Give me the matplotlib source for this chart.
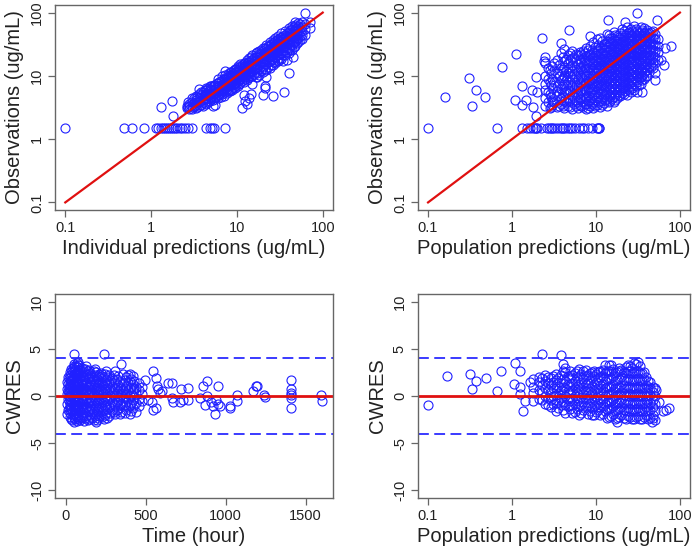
import matplotlib.pyplot as plt

# ---- data ----
# top-left: observations vs individual predictions (ug/mL)
ipred_obs = [
    (2.6, 3.1), (2.6, 3.4), (2.7, 3.2), (2.7, 3.8),
    (2.8, 3.0), (2.8, 3.6), (2.8, 3.3),
    (3.0, 3.2), (3.0, 3.9), (3.0, 3.0), (3.0, 4.4),
    (3.15, 3.3), (3.15, 3.7), (3.15, 4.5),
    (3.3, 3.5), (3.3, 3.1), (3.3, 4.2), (3.3, 4.8),
    (3.45, 3.2), (3.45, 3.9), (3.45, 4.6),
    (3.6, 3.3), (3.6, 3.8), (3.6, 4.5), (3.6, 5.2), (3.6, 6.3),
    (3.8, 3.5), (3.8, 4.2), (3.8, 4.9), (3.8, 5.6),
    (4.0, 3.4), (4.0, 4.1), (4.0, 4.8), (4.0, 5.5), (4.0, 3.9),
    (4.2, 3.7), (4.2, 4.5), (4.2, 5.2), (4.2, 6.0),
    (4.4, 3.6), (4.4, 4.3), (4.4, 5.0), (4.4, 5.9), (4.4, 6.5),
    (4.6, 3.9), (4.6, 4.8), (4.6, 5.6), (4.6, 6.4),
    (4.8, 4.0), (4.8, 4.6), (4.8, 5.3), (4.8, 6.2), (4.8, 7.0),
    (5.0, 4.3), (5.0, 5.1), (5.0, 6.0), (5.0, 7.0),
    (5.2, 3.4), (5.2, 4.2), (5.2, 5.0), (5.2, 5.8), (5.2, 6.8),
    (5.4, 4.5), (5.4, 5.3), (5.4, 6.3), (5.4, 7.1),
    (5.6, 3.5), (5.6, 4.6), (5.6, 5.4), (5.6, 6.1), (5.6, 7.3),
    (5.8, 4.8), (5.8, 5.6), (5.8, 6.6), (5.8, 7.8),
    (6.0, 4.4), (6.0, 5.1), (6.0, 5.8), (6.0, 6.6), (6.0, 7.8), (6.0, 9.0),
    (6.25, 4.9), (6.25, 5.8), (6.25, 6.8), (6.25, 7.9),
    (6.5, 4.6), (6.5, 5.5), (6.5, 6.3), (6.5, 7.1), (6.5, 8.3),
    (6.75, 5.1), (6.75, 6.1), (6.75, 7.2), (6.75, 8.5), (6.75, 10.0),
    (7.0, 4.8), (7.0, 5.9), (7.0, 6.8), (7.0, 7.6), (7.0, 8.8), (7.2, 12.0),
    (7.3, 5.5), (7.3, 6.5), (7.3, 7.6), (7.3, 8.9), (7.3, 10.5),
    (7.6, 5.3), (7.6, 6.3), (7.6, 7.2), (7.6, 8.2), (7.6, 9.5),
    (7.9, 5.8), (7.9, 6.8), (7.9, 8.0), (7.9, 9.4), (7.9, 10.8),
    (8.2, 5.8), (8.2, 6.9), (8.2, 7.8), (8.2, 8.9), (8.2, 10.2), (8.2, 11.5),
    (8.5, 6.2), (8.5, 7.4), (8.5, 8.6), (8.5, 10.0), (8.5, 11.5),
    (8.8, 6.0), (8.8, 7.2), (8.8, 8.4), (8.8, 9.5), (8.8, 10.8),
    (9.15, 6.6), (9.15, 7.8), (9.15, 9.2), (9.15, 10.6), (9.15, 12.2),
    (9.5, 6.4), (9.5, 7.8), (9.5, 9.0), (9.5, 10.2), (9.5, 11.6), (9.5, 13.0),
    (9.85, 7.2), (9.85, 8.5), (9.85, 9.9), (9.85, 11.4), (9.85, 13.0),
    (10.2, 6.8), (10.2, 8.2), (10.2, 9.6), (10.2, 10.8), (10.2, 12.4), (10.2, 14.5),
    (10.6, 7.4), (10.6, 8.9), (10.6, 10.3), (10.6, 11.8), (10.6, 13.6),
    (11.0, 7.6), (11.0, 9.0), (11.0, 10.4), (11.0, 11.7), (11.0, 13.3), (11.0, 15.5),
    (11.5, 8.2), (11.5, 9.8), (11.5, 11.3), (11.5, 12.9), (11.5, 14.8),
    (12.0, 8.0), (12.0, 9.6), (12.0, 11.2), (12.0, 12.6), (12.0, 14.3), (12.0, 16.2),
    (12.5, 8.8), (12.5, 10.4), (12.5, 12.0), (12.5, 13.8), (12.5, 15.8),
    (13.0, 8.6), (13.0, 10.5), (13.0, 12.2), (13.0, 13.6), (13.0, 15.4), (13.0, 18.0),
    (13.5, 9.3), (13.5, 11.0), (13.5, 12.8), (13.5, 14.6), (13.5, 16.8),
    (14.0, 9.5), (14.0, 11.3), (14.0, 13.2), (14.0, 14.8), (14.0, 16.8), (14.0, 19.5),
    (14.5, 9.8), (14.5, 11.8), (14.5, 13.7), (14.5, 15.6), (14.5, 17.8), (14.5, 20.0),
    (15.0, 10.0), (15.0, 12.0), (15.0, 14.0), (15.0, 16.0), (15.0, 18.0), (15.0, 21.0),
    (15.7, 10.8), (15.7, 12.8), (15.7, 14.8), (15.7, 17.0), (15.7, 19.3),
    (16.5, 9.5), (16.5, 11.5), (16.5, 13.5), (16.5, 15.5), (16.5, 17.5), (16.5, 20.0), (16.5, 23.0),
    (17.2, 11.0), (17.2, 13.2), (17.2, 15.4), (17.2, 17.8), (17.2, 20.5), (17.2, 23.5),
    (18.0, 10.5), (18.0, 12.8), (18.0, 15.0), (18.0, 17.2), (18.0, 19.6), (18.0, 22.0), (18.0, 25.0),
    (19.0, 12.0), (19.0, 14.3), (19.0, 16.8), (19.0, 19.5), (19.0, 22.4), (19.0, 25.5),
    (20.0, 11.5), (20.0, 14.0), (20.0, 16.5), (20.0, 19.0), (20.0, 21.5), (20.0, 24.5), (20.0, 28.0),
    (21.0, 12.8), (21.0, 15.5), (21.0, 18.2), (21.0, 21.0), (21.0, 24.0), (21.0, 27.5),
    (22.0, 12.5), (22.0, 15.5), (22.0, 18.0), (22.0, 21.0), (22.0, 23.5), (22.0, 27.0), (22.0, 31.0),
    (23.0, 14.0), (23.0, 16.8), (23.0, 19.8), (23.0, 22.8), (23.0, 26.0), (23.0, 30.0),
    (24.0, 13.5), (24.0, 17.0), (24.0, 20.0), (24.0, 23.0), (24.0, 26.0), (24.0, 29.5), (24.0, 34.0),
    (25.0, 15.0), (25.0, 18.0), (25.0, 21.2), (25.0, 24.4), (25.0, 28.0), (25.0, 32.0),
    (26.0, 15.0), (26.0, 18.5), (26.0, 21.5), (26.0, 25.0), (26.0, 28.5), (26.0, 32.0), (26.0, 37.0),
    (27.0, 16.5), (27.0, 19.7), (27.0, 23.0), (27.0, 26.5), (27.0, 30.0), (27.0, 34.5),
    (28.0, 16.0), (28.0, 20.0), (28.0, 23.5), (28.0, 27.0), (28.0, 31.0), (28.0, 35.0), (28.0, 40.0),
    (29.0, 18.0), (29.0, 21.3), (29.0, 24.8), (29.0, 28.5), (29.0, 32.5), (29.0, 37.0),
    (30.0, 17.0), (30.0, 21.5), (30.0, 25.0), (30.0, 29.0), (30.0, 33.0), (30.0, 38.0), (30.0, 43.0),
    (31.5, 19.5), (31.5, 23.0), (31.5, 27.0), (31.5, 31.0), (31.5, 35.5), (31.5, 40.0),
    (33.0, 18.5), (33.0, 23.0), (33.0, 27.5), (33.0, 32.0), (33.0, 36.0), (33.0, 41.0), (33.0, 47.0),
    (34.5, 21.0), (34.5, 25.0), (34.5, 29.0), (34.5, 33.5), (34.5, 38.0), (34.5, 43.0),
    (36.0, 21.0), (36.0, 25.5), (36.0, 30.0), (36.0, 35.0), (36.0, 40.0), (36.0, 45.0), (36.0, 52.0),
    (38.0, 23.5), (38.0, 28.0), (38.0, 32.5), (38.0, 37.5), (38.0, 42.5), (38.0, 48.0),
    (40.0, 23.0), (40.0, 28.0), (40.0, 33.0), (40.0, 38.0), (40.0, 43.0), (40.0, 50.0), (40.0, 57.0),
    (42.0, 26.0), (42.0, 31.0), (42.0, 36.0), (42.0, 41.5), (42.0, 47.0), (42.0, 53.0),
    (44.0, 26.0), (44.0, 31.0), (44.0, 36.0), (44.0, 42.0), (44.0, 48.0), (44.0, 55.0), (44.0, 62.0),
    (46.0, 29.0), (46.0, 34.5), (46.0, 40.0), (46.0, 46.0), (46.0, 52.0), (46.0, 60.0),
    (48.0, 30.0), (48.0, 36.0), (48.0, 42.0), (48.0, 48.0), (48.0, 55.0), (48.0, 63.0), (48.0, 70.0),
    (50.0, 33.0), (50.0, 39.0), (50.0, 45.0), (50.0, 52.0), (50.0, 58.0),
    (52.0, 34.0), (52.0, 40.0), (52.0, 47.0), (52.0, 54.0), (52.0, 62.0), (52.0, 68.0),
    (54.5, 37.0), (54.5, 43.0), (54.5, 50.0), (54.5, 57.0), (54.5, 65.0),
    (57.0, 38.0), (57.0, 45.0), (57.0, 52.0), (57.0, 60.0), (57.0, 72.0),
    (62.0, 44.0), (62.0, 55.0), (62.0, 65.0), (62.0, 100.0),
    (72.0, 58.0), (72.0, 70.0),
    (11.5, 3.1), (13.2, 3.6), (12.5, 4.0), (13.8, 4.4), (12.0, 5.0), (14.5, 5.2),
    (20.0, 5.0), (21.0, 6.5), (21.5, 7.0), (22.0, 9.5), (17.0, 9.5), (15.0, 7.5),
    (26.0, 4.8), (35.0, 5.5), (41.0, 11.0), (45.0, 20.0), (34.0, 17.0), (38.0, 18.0),
    (1.3, 3.2), (1.75, 4.0), (1.8, 2.3),
]
# below-LLOQ samples drawn at 1.5 ug/mL
blq_level = 1.5
blq_ipred = [0.1, 0.48, 0.6, 0.82, 1.15, 1.22, 1.3, 1.38, 1.45, 1.52, 1.6, 1.7,
             1.8, 1.9, 2.0, 2.15, 2.3, 2.5, 2.7, 3.0, 4.4, 4.8, 5.1, 5.4, 7.2]

# top-right: observations vs population predictions (ug/mL)
pred_obs = [
    (2.5, 3.3), (2.5, 4.5), (2.5, 6.0), (2.5, 7.5), (2.5, 10.0), (2.5, 16.0), (2.5, 20.0),
    (2.65, 3.8), (2.65, 5.5), (2.65, 8.8), (2.65, 13.5),
    (2.8, 3.1), (2.8, 5.2), (2.8, 8.0), (2.8, 12.5),
    (2.9, 3.2), (2.9, 4.6), (2.9, 7.2), (2.9, 11.0),
    (3.0, 3.5), (3.0, 4.0), (3.0, 6.5), (3.0, 9.0), (3.0, 14.5),
    (3.2, 3.9), (3.2, 5.2), (3.2, 8.0), (3.2, 12.5), (3.2, 16.0),
    (3.4, 3.2), (3.4, 4.8), (3.4, 5.8), (3.4, 7.0), (3.4, 11.0), (3.4, 18.0),
    (3.6, 3.4), (3.6, 5.4), (3.6, 7.8), (3.6, 10.0), (3.6, 15.0),
    (3.8, 3.6), (3.8, 4.4), (3.8, 6.2), (3.8, 8.5), (3.8, 12.0), (3.8, 23.0), (3.8, 33.0),
    (4.0, 3.3), (4.0, 4.8), (4.0, 6.8), (4.0, 9.2), (4.0, 13.0), (4.0, 20.0),
    (4.2, 3.1), (4.2, 4.0), (4.2, 5.3), (4.2, 7.5), (4.2, 10.0), (4.2, 14.0), (4.2, 17.0), (4.2, 27.0),
    (4.45, 3.8), (4.45, 5.8), (4.45, 8.6), (4.45, 12.0), (4.45, 18.5),
    (4.7, 3.4), (4.7, 4.5), (4.7, 6.0), (4.7, 8.0), (4.7, 11.0), (4.7, 13.0), (4.7, 16.0), (4.7, 21.0),
    (4.95, 3.2), (4.95, 4.2), (4.95, 5.5), (4.95, 7.3), (4.95, 9.8), (4.95, 14.0), (4.95, 17.5), (4.95, 23.0),
    (5.2, 3.0), (5.2, 3.8), (5.2, 5.0), (5.2, 6.8), (5.2, 9.0), (5.2, 12.0), (5.2, 15.0), (5.2, 19.0), (5.2, 25.0),
    (5.5, 3.6), (5.5, 4.6), (5.5, 6.1), (5.5, 8.1), (5.5, 10.8), (5.5, 14.0), (5.5, 20.0),
    (5.8, 3.3), (5.8, 4.2), (5.8, 5.5), (5.8, 7.3), (5.8, 9.8), (5.8, 13.0), (5.8, 17.0), (5.8, 22.0),
    (6.1, 3.1), (6.1, 3.9), (6.1, 5.1), (6.1, 6.6), (6.1, 8.8), (6.1, 11.5), (6.1, 15.5), (6.1, 21.0),
    (6.4, 3.5), (6.4, 4.6), (6.4, 6.0), (6.4, 8.0), (6.4, 10.5), (6.4, 14.0), (6.4, 18.5), (6.4, 24.0),
    (6.7, 3.4), (6.7, 4.3), (6.7, 5.6), (6.7, 7.4), (6.7, 9.7), (6.7, 12.7), (6.7, 16.5), (6.7, 22.0),
    (7.0, 3.2), (7.0, 4.0), (7.0, 5.2), (7.0, 6.8), (7.0, 8.8), (7.0, 11.5), (7.0, 15.0), (7.0, 19.5), (7.0, 25.0),
    (7.35, 3.6), (7.35, 4.6), (7.35, 6.0), (7.35, 7.8), (7.35, 10.2), (7.35, 13.3), (7.35, 17.5), (7.35, 23.0),
    (7.7, 3.0), (7.7, 3.6), (7.7, 4.6), (7.7, 5.9), (7.7, 7.6), (7.7, 9.8), (7.7, 12.5), (7.7, 16.0), (7.7, 20.5), (7.7, 28.0),
    (8.1, 3.1), (8.1, 4.0), (8.1, 5.0), (8.1, 6.4), (8.1, 8.2), (8.1, 10.5), (8.1, 13.5), (8.1, 17.0), (8.1, 21.5), (8.1, 26.0),
    (8.5, 3.3), (8.5, 4.2), (8.5, 5.3), (8.5, 6.7), (8.5, 8.5), (8.5, 11.0), (8.5, 14.0), (8.5, 17.5), (8.5, 22.0), (8.5, 30.0),
    (8.9, 3.6), (8.9, 4.6), (8.9, 5.9), (8.9, 7.6), (8.9, 9.6), (8.9, 12.3), (8.9, 15.8), (8.9, 20.0), (8.9, 25.5),
    (9.3, 3.1), (9.3, 3.9), (9.3, 4.9), (9.3, 6.2), (9.3, 7.8), (9.3, 10.0), (9.3, 12.5), (9.3, 15.5), (9.3, 19.5), (9.3, 24.0), (9.3, 34.0),
    (9.75, 3.3), (9.75, 4.2), (9.75, 5.3), (9.75, 6.8), (9.75, 8.6), (9.75, 11.0), (9.75, 14.0), (9.75, 17.8), (9.75, 22.5), (9.75, 29.0),
    (10.2, 3.5), (10.2, 4.5), (10.2, 5.6), (10.2, 7.0), (10.2, 8.8), (10.2, 11.0), (10.2, 13.5), (10.2, 17.0), (10.2, 21.0), (10.2, 26.0), (10.2, 38.0),
    (10.7, 3.8), (10.7, 4.8), (10.7, 6.1), (10.7, 7.8), (10.7, 9.9), (10.7, 12.5), (10.7, 15.8), (10.7, 20.0), (10.7, 24.5), (10.7, 31.0),
    (11.2, 3.2), (11.2, 4.0), (11.2, 5.1), (11.2, 6.4), (11.2, 8.0), (11.2, 10.0), (11.2, 12.3), (11.2, 15.0), (11.2, 18.5), (11.2, 23.0), (11.2, 28.0), (11.2, 40.0),
    (11.75, 3.5), (11.75, 4.4), (11.75, 5.6), (11.75, 7.1), (11.75, 9.0), (11.75, 11.4), (11.75, 14.4), (11.75, 18.0), (11.75, 22.5), (11.75, 28.0), (11.75, 35.0),
    (12.3, 3.7), (12.3, 4.6), (12.3, 5.8), (12.3, 7.3), (12.3, 9.1), (12.3, 11.3), (12.3, 14.0), (12.3, 17.0), (12.3, 21.0), (12.3, 26.0), (12.3, 32.0),
    (12.9, 4.1), (12.9, 5.2), (12.9, 6.6), (12.9, 8.3), (12.9, 10.5), (12.9, 13.2), (12.9, 16.5), (12.9, 20.5), (12.9, 25.5), (12.9, 31.5),
    (13.5, 3.4), (13.5, 4.3), (13.5, 5.4), (13.5, 6.8), (13.5, 8.5), (13.5, 10.5), (13.5, 13.0), (13.5, 16.0), (13.5, 19.5), (13.5, 24.0), (13.5, 29.5), (13.5, 36.0), (13.5, 46.0),
    (14.1, 3.8), (14.1, 4.8), (14.1, 6.1), (14.1, 7.7), (14.1, 9.6), (14.1, 12.0), (14.1, 15.0), (14.1, 18.8), (14.1, 23.5), (14.1, 29.0), (14.1, 36.0), (14.1, 44.0),
    (14.8, 4.0), (14.8, 5.0), (14.8, 6.3), (14.8, 7.9), (14.8, 9.8), (14.8, 12.0), (14.8, 14.8), (14.8, 18.0), (14.8, 22.0), (14.8, 27.0), (14.8, 33.0), (14.8, 40.0),
    (15.5, 4.4), (15.5, 5.5), (15.5, 6.9), (15.5, 8.7), (15.5, 10.8), (15.5, 13.5), (15.5, 16.8), (15.5, 21.0), (15.5, 26.0), (15.5, 32.0), (15.5, 39.0),
    (16.2, 3.8), (16.2, 4.7), (16.2, 5.9), (16.2, 7.4), (16.2, 9.2), (16.2, 11.4), (16.2, 14.0), (16.2, 17.0), (16.2, 20.5), (16.2, 25.0), (16.2, 30.5), (16.2, 37.0), (16.2, 50.0),
    (17.0, 4.2), (17.0, 5.2), (17.0, 6.5), (17.0, 8.2), (17.0, 10.2), (17.0, 12.7), (17.0, 15.8), (17.0, 19.5), (17.0, 24.0), (17.0, 29.5), (17.0, 36.0), (17.0, 45.0),
    (17.8, 4.5), (17.8, 5.6), (17.8, 7.0), (17.8, 8.7), (17.8, 10.8), (17.8, 13.3), (17.8, 16.3), (17.8, 20.0), (17.8, 24.0), (17.8, 29.0), (17.8, 35.0), (17.8, 43.0),
    (18.6, 5.0), (18.6, 6.3), (18.6, 7.8), (18.6, 9.7), (18.6, 12.0), (18.6, 14.9), (18.6, 18.4), (18.6, 22.5), (18.6, 27.5), (18.6, 33.5), (18.6, 41.0),
    (19.5, 4.8), (19.5, 6.0), (19.5, 7.5), (19.5, 9.3), (19.5, 11.5), (19.5, 14.2), (19.5, 17.5), (19.5, 21.5), (19.5, 26.0), (19.5, 31.5), (19.5, 38.0), (19.5, 47.0),
    (20.4, 5.4), (20.4, 6.7), (20.4, 8.3), (20.4, 10.4), (20.4, 12.9), (20.4, 16.0), (20.4, 19.7), (20.4, 24.0), (20.4, 29.5), (20.4, 36.0), (20.4, 44.0), (20.4, 56.0),
    (21.4, 5.2), (21.4, 6.5), (21.4, 8.0), (21.4, 10.0), (21.4, 12.3), (21.4, 15.2), (21.4, 18.7), (21.4, 23.0), (21.4, 28.0), (21.4, 34.0), (21.4, 41.0), (21.4, 52.0),
    (22.4, 5.8), (22.4, 7.2), (22.4, 9.0), (22.4, 11.1), (22.4, 13.7), (22.4, 17.0), (22.4, 21.0), (22.4, 25.5), (22.4, 31.0), (22.4, 37.5), (22.4, 45.0),
    (23.5, 5.0), (23.5, 6.2), (23.5, 7.8), (23.5, 9.7), (23.5, 12.0), (23.5, 14.8), (23.5, 18.2), (23.5, 22.0), (23.5, 27.0), (23.5, 33.0), (23.5, 40.0), (23.5, 48.0), (23.5, 60.0),
    (24.6, 6.0), (24.6, 7.5), (24.6, 9.3), (24.6, 11.6), (24.6, 14.3), (24.6, 17.8), (24.6, 22.0), (24.6, 27.0), (24.6, 33.0), (24.6, 40.0), (24.6, 50.0),
    (25.8, 5.6), (25.8, 7.0), (25.8, 8.7), (25.8, 10.8), (25.8, 13.4), (25.8, 16.5), (25.8, 20.3), (25.8, 25.0), (25.8, 30.5), (25.8, 37.0), (25.8, 45.0), (25.8, 55.0),
    (27.0, 6.5), (27.0, 8.1), (27.0, 10.0), (27.0, 12.4), (27.0, 15.3), (27.0, 18.9), (27.0, 23.4), (27.0, 28.5), (27.0, 35.0), (27.0, 42.5), (27.0, 52.0),
    (28.3, 6.0), (28.3, 7.5), (28.3, 9.4), (28.3, 11.6), (28.3, 14.3), (28.3, 17.6), (28.3, 21.7), (28.3, 26.5), (28.3, 32.5), (28.3, 39.5), (28.3, 48.0), (28.3, 62.0),
    (29.6, 7.0), (29.6, 8.7), (29.6, 10.8), (29.6, 13.4), (29.6, 16.5), (29.6, 20.4), (29.6, 25.0), (29.6, 30.5), (29.6, 37.5), (29.6, 45.0), (29.6, 56.0),
    (31.0, 5.5), (31.0, 8.0), (31.0, 10.0), (31.0, 12.4), (31.0, 15.3), (31.0, 18.8), (31.0, 23.0), (31.0, 28.0), (31.0, 34.5), (31.0, 42.0), (31.0, 51.0), (31.0, 100.0),
    (32.5, 7.3), (32.5, 9.1), (32.5, 11.3), (32.5, 14.0), (32.5, 17.3), (32.5, 21.3), (32.5, 26.0), (32.5, 32.0), (32.5, 39.0), (32.5, 47.0),
    (34.0, 7.5), (34.0, 9.5), (34.0, 11.8), (34.0, 14.6), (34.0, 18.0), (34.0, 22.0), (34.0, 27.0), (34.0, 33.0), (34.0, 40.0), (34.0, 49.0), (34.0, 60.0),
    (35.6, 8.5), (35.6, 10.5), (35.6, 13.0), (35.6, 16.0), (35.6, 19.7), (35.6, 24.0), (35.6, 29.5), (35.6, 36.0), (35.6, 44.0), (35.6, 54.0),
    (37.3, 9.0), (37.3, 11.2), (37.3, 14.0), (37.3, 17.3), (37.3, 21.3), (37.3, 26.0), (37.3, 32.0), (37.3, 39.0), (37.3, 47.0), (37.3, 58.0),
    (39.1, 9.8), (39.1, 12.2), (39.1, 15.0), (39.1, 18.5), (39.1, 22.8), (39.1, 28.0), (39.1, 34.0), (39.1, 41.0), (39.1, 50.0),
    (41.0, 10.0), (41.0, 12.5), (41.0, 15.5), (41.0, 19.0), (41.0, 23.5), (41.0, 29.0), (41.0, 35.5), (41.0, 43.0), (41.0, 53.0),
    (43.0, 11.5), (43.0, 14.2), (43.0, 17.5), (43.0, 21.5), (43.0, 26.5), (43.0, 32.5), (43.0, 40.0), (43.0, 48.0),
    (45.0, 14.0), (45.0, 17.5), (45.0, 21.5), (45.0, 26.5), (45.0, 32.5), (45.0, 40.0), (45.0, 49.0),
    (47.5, 13.5), (47.5, 16.8), (47.5, 20.7), (47.5, 25.5), (47.5, 31.5), (47.5, 39.0), (47.5, 52.0),
    (50.0, 8.5), (50.0, 11.0), (50.0, 16.0), (50.0, 20.0), (50.0, 25.0), (50.0, 31.0), (50.0, 38.0), (50.0, 46.0),
    (55.0, 18.0), (55.0, 24.0), (55.0, 30.0), (55.0, 38.0), (53.0, 75.0),
    (0.16, 4.6), (0.31, 9.3), (0.33, 3.3), (0.37, 6.0), (0.48, 4.6), (0.75, 14.0),
    (1.1, 4.2), (1.13, 22.0), (1.3, 7.0), (1.3, 3.5), (1.45, 4.2), (1.75, 6.0),
    (1.8, 3.2), (1.95, 2.3), (1.95, 9.7), (2.0, 5.5), (2.3, 40.0), (4.8, 53.0),
    (2.4, 17.0), (8.5, 42.0), (14.0, 75.0), (22.0, 72.0), (66.0, 28.0),
    (78.0, 30.0), (60.0, 18.0), (65.0, 15.0), (35.0, 5.5),
]
blq_pred = [0.1, 0.66, 1.3, 1.5, 1.65, 1.8, 1.9, 1.95, 2.0, 2.2, 2.6, 2.75, 2.9,
            3.0, 3.2, 3.4, 3.7, 3.9, 4.1, 4.3, 4.6, 4.9, 5.2, 5.7, 6.3, 6.8,
            7.3, 8.0, 9.0, 10.2, 10.6, 10.8, 11.0]

# bottom-left: CWRES vs time (hour)
time_cwres = [
    (10, -1.9), (10, -0.8), (10, 0.2), (10, 0.7), (10, 1.5),
    (15, -1.5), (15, -0.3), (15, 0.5), (15, 1.3), (15, 2.0),
    (20, -1.4), (20, -0.5), (20, 0.3), (20, 1.0), (20, 1.9), (20, 0.0),
    (25, -1.8), (25, -0.9), (25, 0.0), (25, 0.8), (25, 1.6), (25, 2.5),
    (30, -2.2), (30, -1.2), (30, -0.3), (30, 0.5), (30, 1.3), (30, 2.2),
    (35, -2.4), (35, -1.4), (35, -0.5), (35, 0.3), (35, 1.1), (35, 2.0), (35, 2.9),
    (40, -2.5), (40, -1.6), (40, -0.7), (40, 0.1), (40, 0.9), (40, 1.7), (40, 2.7),
    (45, -2.0), (45, -1.1), (45, -0.3), (45, 0.5), (45, 1.3), (45, 2.1), (45, 3.0),
    (50, -2.7), (50, -1.9), (50, -1.0), (50, -0.2), (50, 0.6), (50, 1.4), (50, 2.3), (50, 3.2), (50, 4.5),
    (55, -2.3), (55, -1.4), (55, -0.5), (55, 0.3), (55, 1.1), (55, 1.9), (55, 2.7), (55, 3.4),
    (60, -2.4), (60, -1.5), (60, -0.6), (60, 0.3), (60, 1.1), (60, 2.0), (60, 2.9),
    (65, -2.1), (65, -1.2), (65, -0.3), (65, 0.6), (65, 1.4), (65, 2.3), (65, 3.2),
    (70, -2.6), (70, -1.8), (70, -0.9), (70, 0.0), (70, 0.8), (70, 1.6), (70, 2.5), (70, 3.5),
    (75, -2.4), (75, -1.5), (75, -0.6), (75, 0.3), (75, 1.1), (75, 1.9), (75, 2.8), (75, 3.3),
    (80, -2.2), (80, -1.3), (80, -0.4), (80, 0.5), (80, 1.3), (80, 2.2), (80, 3.1), (80, 3.6),
    (85, -2.0), (85, -1.1), (85, -0.2), (85, 0.7), (85, 1.5), (85, 2.4), (85, 3.3),
    (90, -2.5), (90, -1.6), (90, -0.7), (90, 0.2), (90, 1.0), (90, 1.9), (90, 2.8),
    (95, -2.2), (95, -1.3), (95, -0.4), (95, 0.5), (95, 1.3), (95, 2.2),
    (100, -2.3), (100, -1.4), (100, -0.5), (100, 0.4), (100, 1.2), (100, 2.1), (100, 3.0),
    (108, -2.0), (108, -1.1), (108, -0.2), (108, 0.7), (108, 1.6), (108, 2.5),
    (115, -2.6), (115, -1.7), (115, -0.8), (115, 0.1), (115, 0.9), (115, 1.8), (115, 2.6),
    (122, -2.3), (122, -1.4), (122, -0.5), (122, 0.4), (122, 1.2), (122, 2.1), (122, 2.9),
    (130, -2.1), (130, -1.2), (130, -0.3), (130, 0.6), (130, 1.4), (130, 2.3), (130, 3.2),
    (138, -2.5), (138, -1.6), (138, -0.7), (138, 0.2), (138, 1.0), (138, 1.9), (138, 2.6),
    (145, -2.4), (145, -1.5), (145, -0.6), (145, 0.3), (145, 1.1), (145, 2.0), (145, 2.8),
    (152, -2.0), (152, -1.1), (152, -0.2), (152, 0.7), (152, 1.5), (152, 2.4),
    (160, -2.2), (160, -1.3), (160, -0.4), (160, 0.5), (160, 1.3), (160, 2.2),
    (168, -2.3), (168, -1.4), (168, -0.5), (168, 0.4), (168, 1.2), (168, 2.0),
    (175, -2.5), (175, -1.6), (175, -0.7), (175, 0.2), (175, 1.0), (175, 1.8), (175, 2.7),
    (182, -2.1), (182, -1.2), (182, -0.3), (182, 0.6), (182, 1.4), (182, 2.2), (182, 2.9),
    (190, -2.8), (190, -1.9), (190, -1.0), (190, -0.1), (190, 0.8), (190, 1.6), (190, 2.5),
    (198, -2.5), (198, -1.6), (198, -0.7), (198, 0.2), (198, 1.0), (198, 1.8),
    (205, -2.3), (205, -1.4), (205, -0.5), (205, 0.4), (205, 1.2), (205, 2.1),
    (212, -2.1), (212, -1.2), (212, -0.3), (212, 0.6), (212, 1.4), (212, 2.3),
    (220, -2.0), (220, -1.1), (220, -0.2), (220, 0.7), (220, 1.5), (220, 2.4),
    (230, -2.2), (230, -1.3), (230, -0.4), (230, 0.5), (230, 1.3), (230, 2.1),
    (240, -2.4), (240, -1.5), (240, -0.6), (240, 0.3), (240, 1.1), (240, 2.0), (240, 4.4),
    (248, -2.0), (248, -1.1), (248, -0.2), (248, 0.7), (248, 1.5), (248, 2.3),
    (255, -1.8), (255, -0.9), (255, 0.0), (255, 0.9), (255, 1.7), (255, 2.6),
    (262, -2.3), (262, -1.4), (262, -0.5), (262, 0.4), (262, 1.2), (262, 2.0),
    (270, -2.1), (270, -1.2), (270, -0.3), (270, 0.6), (270, 1.4), (270, 2.2),
    (280, -1.8), (280, -0.9), (280, 0.0), (280, 0.9), (280, 1.7),
    (290, -1.5), (290, -0.6), (290, 0.3), (290, 1.1), (290, 1.9),
    (300, -1.7), (300, -0.8), (300, 0.1), (300, 0.9), (300, 1.7), (300, 2.2),
    (310, -1.9), (310, -1.0), (310, -0.1), (310, 0.7), (310, 1.5), (310, 2.7),
    (320, -1.5), (320, -0.6), (320, 0.3), (320, 1.0), (320, 1.8),
    (330, -1.3), (330, -0.4), (330, 0.5), (330, 1.2), (330, 2.1),
    (338, -1.9), (338, -1.0), (338, -0.1), (338, 0.7), (338, 1.5),
    (345, -1.7), (345, -0.8), (345, 0.1), (345, 0.9), (345, 3.4),
    (360, -1.1), (360, -0.2), (360, 0.6), (360, 1.4), (360, 2.3),
    (370, -1.8), (370, -0.9), (370, 0.0), (370, 0.8), (370, 1.7),
    (380, -1.5), (380, -0.6), (380, 0.3), (380, 1.1), (380, 2.0),
    (390, -1.2), (390, -0.3), (390, 0.6), (390, 1.4), (390, 2.2),
    (400, -1.9), (400, -0.9), (400, 0.0), (400, 0.8), (400, 1.6), (400, 2.3),
    (410, -1.6), (410, -0.7), (410, 0.2), (410, 1.0), (410, 1.8),
    (420, -1.3), (420, -0.4), (420, 0.5), (420, 1.3), (420, 2.1),
    (430, -1.0), (430, -0.1), (430, 0.8), (430, 1.6),
    (440, -1.7), (440, -0.7), (440, 0.2), (440, 1.0),
    (460, -1.1), (460, -0.3), (460, 0.6), (460, 1.4),
    (480, -0.5), (480, 0.2), (480, 1.0),
    (499, 1.7), (547, 2.6), (568, 1.9), (570, 1.1), (578, 0.7), (589, 0.3), (603, 0.5),
    (537, -0.6), (547, -1.5), (568, -1.3), (516, -0.4), (641, 1.36), (662, 1.4),
    (662, -0.2), (672, -0.6), (724, 0.7), (766, 0.86), (714, -0.6), (735, -0.4),
    (766, -0.4), (838, -0.2), (858, 1.04), (883, 1.57), (873, -1.0), (883, 0.0),
    (911, -0.6), (922, -1.1), (932, -1.9), (941, -0.4), (951, -0.86), (955, 1.04),
    (963, -1.1), (1026, -1.1), (1026, -1.3), (1073, 0.07), (1073, -0.5),
    (1171, 0.5), (1192, 1.04), (1196, 1.1), (1240, 0.07), (1244, -0.1),
    (1406, 1.7), (1406, 0.7), (1406, 0.3), (1406, 0.07), (1406, -0.2), (1406, -1.3),
    (1598, 0.07), (1600, -0.5),
]

# bottom-right: CWRES vs population predictions (ug/mL)
pred_cwres = [
    (1.8, -0.5), (1.8, 0.3), (1.8, 1.0), (1.8, 1.8),
    (2.1, -0.3), (2.1, 0.6), (2.1, 1.5), (2.1, 2.0),
    (2.3, -0.4), (2.3, 0.4), (2.3, 1.2), (2.3, 1.9),
    (2.5, -0.8), (2.5, 0.0), (2.5, 0.9), (2.5, 1.6), (2.5, 2.2),
    (2.7, -1.0), (2.7, -0.2), (2.7, 0.6), (2.7, 1.4), (2.7, 2.0),
    (2.9, -1.2), (2.9, -0.4), (2.9, 0.4), (2.9, 1.2), (2.9, 1.9),
    (3.1, -0.8), (3.1, 0.0), (3.1, 0.8), (3.1, 1.5), (3.1, 2.1),
    (3.3, -1.6), (3.3, -0.7), (3.3, 0.1), (3.3, 0.9), (3.3, 1.7), (3.3, 2.3),
    (3.55, -1.3), (3.55, -0.5), (3.55, 0.3), (3.55, 1.1), (3.55, 1.9),
    (3.8, -1.0), (3.8, -0.2), (3.8, 0.6), (3.8, 1.4), (3.8, 2.2),
    (4.05, -1.5), (4.05, -0.6), (4.05, 0.2), (4.05, 1.0), (4.05, 1.8), (4.05, 2.6),
    (4.3, -1.8), (4.3, -0.9), (4.3, 0.0), (4.3, 0.8), (4.3, 1.6), (4.3, 2.5),
    (4.6, -1.1), (4.6, -0.3), (4.6, 0.5), (4.6, 1.3), (4.6, 2.1),
    (4.9, -1.4), (4.9, -0.5), (4.9, 0.3), (4.9, 1.1), (4.9, 1.9), (4.9, 2.7),
    (5.25, -1.8), (5.25, -1.0), (5.25, -0.2), (5.25, 0.6), (5.25, 1.4), (5.25, 2.2),
    (5.6, -1.7), (5.6, -0.8), (5.6, 0.0), (5.6, 0.8), (5.6, 1.6), (5.6, 2.4),
    (5.95, -1.4), (5.95, -0.5), (5.95, 0.3), (5.95, 1.1), (5.95, 1.9), (5.95, 2.6),
    (6.3, -2.0), (6.3, -1.1), (6.3, -0.3), (6.3, 0.5), (6.3, 1.3), (6.3, 2.1), (6.3, 2.9),
    (6.7, -1.8), (6.7, -0.9), (6.7, -0.1), (6.7, 0.7), (6.7, 1.5), (6.7, 2.3),
    (7.1, -1.5), (7.1, -0.6), (7.1, 0.2), (7.1, 1.0), (7.1, 1.8), (7.1, 2.6),
    (7.55, -1.2), (7.55, -0.3), (7.55, 0.5), (7.55, 1.3), (7.55, 2.1), (7.55, 2.8),
    (8.0, -1.9), (8.0, -1.0), (8.0, -0.2), (8.0, 0.6), (8.0, 1.4), (8.0, 2.2),
    (8.5, -1.6), (8.5, -0.7), (8.5, 0.1), (8.5, 0.9), (8.5, 1.7), (8.5, 2.4),
    (9.0, -2.0), (9.0, -1.3), (9.0, -0.5), (9.0, 0.3), (9.0, 1.1), (9.0, 1.9), (9.0, 2.5),
    (9.55, -2.0), (9.55, -1.1), (9.55, -0.3), (9.55, 0.5), (9.55, 1.3), (9.55, 2.1), (9.55, 2.6),
    (10.1, -1.7), (10.1, -0.9), (10.1, -0.1), (10.1, 0.7), (10.1, 1.5), (10.1, 2.3),
    (10.7, -1.5), (10.7, -0.7), (10.7, 0.1), (10.7, 0.9), (10.7, 1.7), (10.7, 2.5),
    (11.3, -2.0), (11.3, -1.2), (11.3, -0.4), (11.3, 0.4), (11.3, 1.2), (11.3, 2.0), (11.3, 2.6),
    (12.0, -1.9), (12.0, -1.1), (12.0, -0.3), (12.0, 0.5), (12.0, 1.3), (12.0, 2.1), (12.0, 2.8),
    (12.7, -1.6), (12.7, -0.8), (12.7, 0.0), (12.7, 0.8), (12.7, 1.6), (12.7, 2.4), (12.7, 3.3),
    (13.4, -2.3), (13.4, -1.4), (13.4, -0.6), (13.4, 0.2), (13.4, 1.0), (13.4, 1.8), (13.4, 2.6),
    (14.2, -2.2), (14.2, -1.4), (14.2, -0.6), (14.2, 0.2), (14.2, 1.0), (14.2, 1.8), (14.2, 2.6), (14.2, 3.3),
    (15.1, -2.1), (15.1, -1.3), (15.1, -0.5), (15.1, 0.3), (15.1, 1.1), (15.1, 1.9), (15.1, 2.7), (15.1, 3.3),
    (16.0, -1.9), (16.0, -1.1), (16.0, -0.3), (16.0, 0.5), (16.0, 1.3), (16.0, 2.1), (16.0, 2.9),
    (16.9, -2.4), (16.9, -1.6), (16.9, -0.8), (16.9, 0.0), (16.9, 0.8), (16.9, 1.6), (16.9, 2.4),
    (17.9, -2.7), (17.9, -2.3), (17.9, -1.5), (17.9, -0.7), (17.9, 0.1), (17.9, 0.9), (17.9, 1.7), (17.9, 2.5),
    (19.0, -2.2), (19.0, -1.4), (19.0, -0.6), (19.0, 0.2), (19.0, 1.0), (19.0, 1.8), (19.0, 2.6), (19.0, 3.0),
    (20.1, -2.0), (20.1, -1.2), (20.1, -0.4), (20.1, 0.4), (20.1, 1.2), (20.1, 2.0), (20.1, 2.8),
    (21.3, -2.3), (21.3, -1.5), (21.3, -0.7), (21.3, 0.1), (21.3, 0.9), (21.3, 1.7), (21.3, 2.5),
    (22.5, -2.4), (22.5, -1.6), (22.5, -0.8), (22.5, 0.0), (22.5, 0.8), (22.5, 1.6), (22.5, 2.4), (22.5, 3.1),
    (23.8, -2.1), (23.8, -1.3), (23.8, -0.5), (23.8, 0.3), (23.8, 1.1), (23.8, 1.9), (23.8, 2.7), (23.8, 3.3),
    (25.2, -2.2), (25.2, -1.4), (25.2, -0.6), (25.2, 0.2), (25.2, 1.0), (25.2, 1.8), (25.2, 2.6), (25.2, 3.2),
    (26.7, -2.4), (26.7, -1.6), (26.7, -0.8), (26.7, 0.0), (26.7, 0.8), (26.7, 1.6), (26.7, 2.4), (26.7, 3.0),
    (28.3, -2.4), (28.3, -1.6), (28.3, -0.8), (28.3, 0.0), (28.3, 0.8), (28.3, 1.6), (28.3, 2.4), (28.3, 3.5),
    (30.0, -2.2), (30.0, -1.4), (30.0, -0.6), (30.0, 0.2), (30.0, 1.0), (30.0, 1.8), (30.0, 2.6), (30.0, 3.4),
    (31.7, -2.1), (31.7, -1.3), (31.7, -0.5), (31.7, 0.3), (31.7, 1.1), (31.7, 1.9), (31.7, 2.7), (31.7, 3.6),
    (33.6, -2.4), (33.6, -1.6), (33.6, -0.8), (33.6, 0.0), (33.6, 0.8), (33.6, 1.6), (33.6, 2.4), (33.6, 3.2),
    (35.5, -2.4), (35.5, -1.6), (35.5, -0.8), (35.5, 0.0), (35.5, 0.8), (35.5, 1.6), (35.5, 2.4),
    (37.6, -2.2), (37.6, -1.4), (37.6, -0.6), (37.6, 0.2), (37.6, 1.0), (37.6, 1.8), (37.6, 2.5),
    (39.8, -2.0), (39.8, -1.2), (39.8, -0.4), (39.8, 0.4), (39.8, 1.2), (39.8, 2.0),
    (42.2, -2.4), (42.2, -1.6), (42.2, -0.8), (42.2, 0.0), (42.2, 0.8), (42.2, 1.6),
    (44.6, -2.3), (44.6, -1.5), (44.6, -0.7), (44.6, 0.1), (44.6, 0.9), (44.6, 1.5),
    (47.3, -2.0), (47.3, -1.2), (47.3, -0.4), (47.3, 0.4), (47.3, 1.0),
    (50.0, -2.5), (50.0, -1.6), (50.0, -0.8), (50.0, 0.0), (50.0, 0.8),
    (0.1, -0.93), (0.166, 2.1), (0.317, 2.3), (0.33, 0.75), (0.37, 1.57), (0.49, 1.93),
    (0.66, 0.5), (0.74, 2.6), (1.06, 1.32), (1.1, 3.54), (1.25, 2.7), (1.26, 0.96),
    (1.23, 0.25), (1.34, -1.64), (1.43, -0.5), (1.65, 1.5), (2.3, 4.5), (3.86, 4.36),
    (4.1, 3.36), (4.3, 3.0), (52.0, 0.68), (56.7, -0.64), (63.0, -1.64), (68.8, -1.46),
    (75.0, -1.3), (48.0, -2.36), (47.0, -2.7),
]

unity = [0.1, 100]
cwres_bounds = [-4, 4]
log_ticks = [0.1, 1, 10, 100]
log_labels = ["0.1", "1", "10", "100"]
cwres_ticks = [-10, -5, 0, 5, 10]
time_ticks = [0, 500, 1000, 1500]

plt.rcParams['font.family'] = ['Liberation Sans', 'DejaVu Sans']

W, H = 699, 551
fig = plt.figure(figsize=(W / 100, H / 100), dpi=100)


def add_ax(l, t, r, b):
    return fig.add_axes([l / W, 1 - b / H, (r - l) / W, (b - t) / H])


def style(ax, xlabel, ylabel):
    for s in ax.spines.values():
        s.set_color('#666666')
        s.set_linewidth(1.0)
    ax.tick_params(direction='out', length=5, width=0.9, color='#666666',
                   labelsize=10.5, pad=3, labelcolor='#222222')
    ax.minorticks_off()
    ax.set_xlabel(xlabel, fontsize=14.5, labelpad=3, color='#222222')
    ax.set_ylabel(ylabel, fontsize=14.5, labelpad=4, color='#222222')
    for lab in ax.get_yticklabels():
        lab.set_rotation(90)
        lab.set_va('center')


def circles(ax, x, y):
    ax.plot(x, y, 'o', mfc='none', mec='#2020ff', ms=6.5, mew=0.8)


red = '#e01010'
blue = '#2b2bff'

# top-left
ax1 = add_ax(55, 5, 333, 210)
x, y = zip(*ipred_obs)
circles(ax1, x, y)
circles(ax1, blq_ipred, [blq_level] * len(blq_ipred))
ax1.plot(unity, unity, color=red, lw=1.6)
ax1.set_xscale('log')
ax1.set_yscale('log')
ax1.set_xlim(0.0759, 131.8)
ax1.set_ylim(0.0759, 131.8)
ax1.set_xticks(log_ticks, log_labels)
ax1.set_yticks(log_ticks, log_labels)
style(ax1, "Individual predictions (ug/mL)", "Observations (ug/mL)")

# top-right
ax2 = add_ax(418, 5, 690, 210)
x, y = zip(*pred_obs)
circles(ax2, x, y)
circles(ax2, blq_pred, [blq_level] * len(blq_pred))
ax2.plot(unity, unity, color=red, lw=1.6)
ax2.set_xscale('log')
ax2.set_yscale('log')
ax2.set_xlim(0.0759, 131.8)
ax2.set_ylim(0.0759, 131.8)
ax2.set_xticks(log_ticks, log_labels)
ax2.set_yticks(log_ticks, log_labels)
style(ax2, "Population predictions (ug/mL)", "Observations (ug/mL)")

# bottom-left
ax3 = add_ax(55, 294, 333, 498)
x, y = zip(*time_cwres)
circles(ax3, x, y)
ax3.axhline(0, color=red, lw=2.0)
for b in cwres_bounds:
    ax3.axhline(b, color=blue, lw=1.3, dashes=(6, 3))
ax3.set_xlim(-66, 1671)
ax3.set_ylim(-10.8, 10.8)
ax3.set_xticks(time_ticks, [str(t) for t in time_ticks])
ax3.set_yticks(cwres_ticks, [str(t) for t in cwres_ticks])
style(ax3, "Time (hour)", "CWRES")

# bottom-right
ax4 = add_ax(418, 294, 690, 498)
x, y = zip(*pred_cwres)
circles(ax4, x, y)
ax4.axhline(0, color=red, lw=2.0)
for b in cwres_bounds:
    ax4.axhline(b, color=blue, lw=1.3, dashes=(6, 3))
ax4.set_xscale('log')
ax4.set_xlim(0.0759, 131.8)
ax4.set_ylim(-10.8, 10.8)
ax4.set_xticks(log_ticks, log_labels)
ax4.set_yticks(cwres_ticks, [str(t) for t in cwres_ticks])
style(ax4, "Population predictions (ug/mL)", "CWRES")

fig.savefig("out.png", dpi=100)
